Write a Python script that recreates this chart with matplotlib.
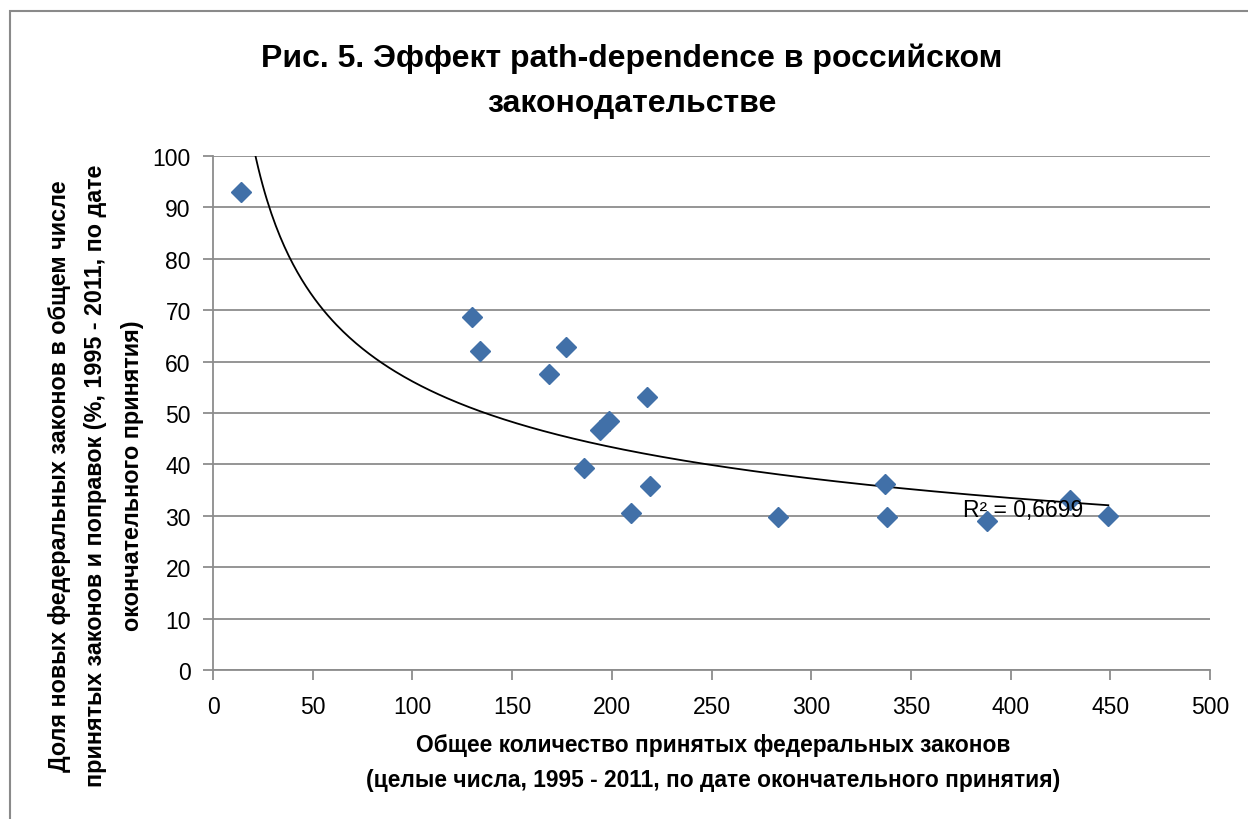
import numpy as np
import matplotlib
matplotlib.use('Agg')
import matplotlib.pyplot as plt
from matplotlib.patches import Rectangle

plt.rcParams['font.family'] = ['Liberation Sans', 'DejaVu Sans']

# Данные (оценены по рисунку)
total_laws = [14, 130, 134, 177, 168.5, 217.5, 194, 198.5, 186, 219, 209.5,
              283.5, 337, 338, 388, 430, 449]
share_new = [93.0, 68.7, 62.1, 62.8, 57.6, 53.1, 46.7, 48.4, 39.3, 35.8, 30.5,
             29.8, 36.2, 29.8, 29.0, 33.1, 30.0]
x_ticks = [0, 50, 100, 150, 200, 250, 300, 350, 400, 450, 500]
y_ticks = [0, 10, 20, 30, 40, 50, 60, 70, 80, 90, 100]

W, H = 1248, 820
fig = plt.figure(figsize=(W / 100, H / 100), dpi=100)

# Рамка диаграммы
fig.patches.append(Rectangle((10 / W, -0.1), 1.2, (H - 12) / H + 0.1,
                             transform=fig.transFigure, fill=False,
                             edgecolor='#8a8a8a', linewidth=1.5))

ax = fig.add_axes([213 / W, (H - 671) / H, (1210 - 213) / W, (671 - 157) / H])

# Степенная линия тренда
x = np.array(total_laws)
y = np.array(share_new)
b, ln_a = np.polyfit(np.log(x), np.log(y), 1)
xs = np.linspace(x.min(), x.max(), 400)
ax.plot(xs, np.exp(ln_a) * xs ** b, color='black', linewidth=1.3, zorder=2)

ax.plot(total_laws, share_new, linestyle='none', marker='D', markersize=10,
        color='#4170A8', markeredgecolor='#4170A8', zorder=3)

ax.set_xlim(0, 500)
ax.set_ylim(0, 100)
ax.set_xticks(x_ticks)
ax.set_yticks(y_ticks)
ax.yaxis.grid(True, color='#8c8c8c', linewidth=1.3)
ax.set_axisbelow(True)
for s in ['top', 'right']:
    ax.spines[s].set_visible(False)
for s in ['left', 'bottom']:
    ax.spines[s].set_color('#8c8c8c')
    ax.spines[s].set_linewidth(1.3)
ax.tick_params(direction='out', length=7, width=1.3, color='#8c8c8c',
               labelsize=16.5)
ax.tick_params(axis='x', pad=11)
ax.tick_params(axis='y', pad=9)

ax.text(376, 31.3, 'R² = 0,6699', fontsize=16.5, ha='left', va='center')

fig.text(632 / W, 1 - 81 / H,
         'Рис. 5. Эффект path-dependence в российском\nзаконодательстве',
         ha='center', va='center', fontsize=23, fontweight='bold',
         linespacing=1.65)

fig.text(713 / W, 1 - 763 / H,
         'Общее количество принятых федеральных законов\n'
         '(целые числа, 1995 - 2011, по дате окончательного принятия)',
         ha='center', va='center', fontsize=16.4, fontweight='bold',
         linespacing=1.72)

fig.text(96 / W, 1 - 476 / H,
         'Доля новых федеральных законов в общем числе\n'
         'принятых законов и поправок (%, 1995 - 2011, по дате\n'
         'окончательного принятия)',
         ha='center', va='center', rotation=90, fontsize=16.8,
         fontweight='bold', linespacing=1.76)

fig.savefig('out.png', dpi=100)
